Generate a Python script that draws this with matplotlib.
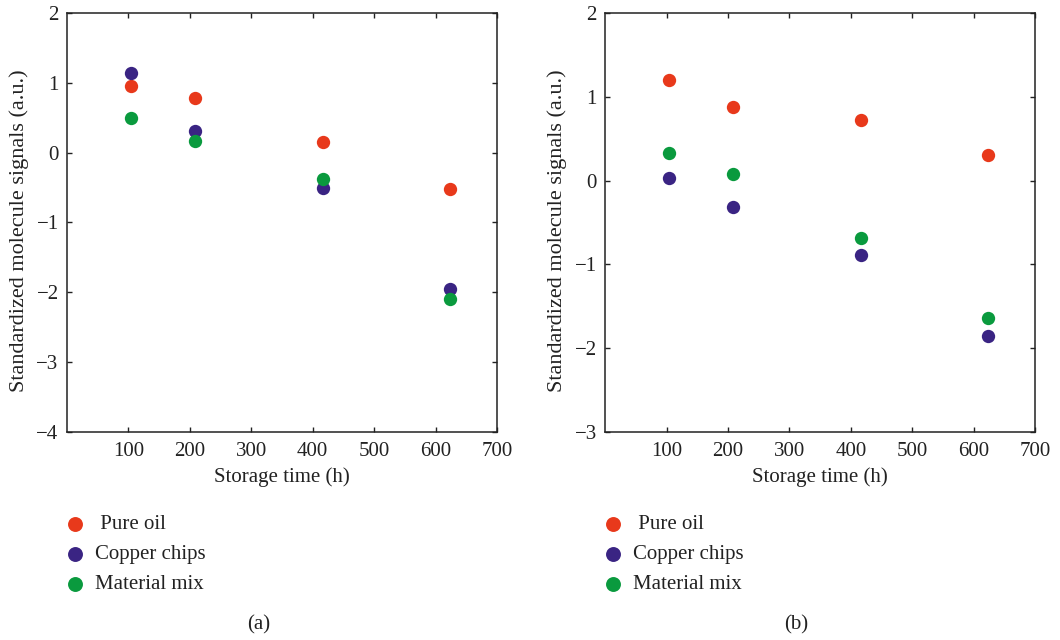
import matplotlib
matplotlib.use("Agg")
import matplotlib.pyplot as plt

plt.rcParams['font.family'] = ['Liberation Serif', 'DejaVu Serif']
plt.rcParams['axes.unicode_minus'] = True

# storage time (h)
times = [104, 208, 416, 624]

# panel (a)
pure_oil_a = [0.96, 0.78, 0.15, -0.52]
copper_a = [1.14, 0.31, -0.50, -1.95]
mix_a = [0.49, 0.17, -0.37, -2.10]

# panel (b)
pure_oil_b = [1.20, 0.88, 0.72, 0.31]
copper_b = [0.03, -0.32, -0.89, -1.86]
mix_b = [0.33, 0.08, -0.69, -1.64]

series_names = [' Pure oil', 'Copper chips', 'Material mix']
colors = ['#e8391b', '#3a2483', '#0a9a3e']

xticks = [100, 200, 300, 400, 500, 600, 700]
yticks_a = [-4, -3, -2, -1, 0, 1, 2]
yticks_b = [-3, -2, -1, 0, 1, 2]

fs = 15

fig = plt.figure(figsize=(10.6, 6.4), dpi=100)
ax1 = fig.add_axes([0.0632, 0.325, 0.4057, 0.6547])
ax2 = fig.add_axes([0.5710, 0.325, 0.4054, 0.6547])

panels = [
    (ax1, [pure_oil_a, copper_a, mix_a], (-4, 2), yticks_a, '(a)'),
    (ax2, [pure_oil_b, copper_b, mix_b], (-3, 2), yticks_b, '(b)'),
]

for ax, data, ylim, yticks, tag in panels:
    for vals, name, c in zip(data, series_names, colors):
        ax.scatter(times, vals, s=92, color=c, label=name, zorder=3,
                   linewidths=0)
    ax.set_xlim(0, 700)
    ax.set_ylim(*ylim)
    ax.set_xticks(xticks)
    ax.set_yticks(yticks)
    ax.tick_params(direction='in', top=True, right=True, length=3.8,
                   width=1, labelsize=fs, colors='#222222')
    ax.tick_params(axis='x', pad=7.5)
    ax.tick_params(axis='y', pad=6)
    for sp in ax.spines.values():
        sp.set_linewidth(1.1)
        sp.set_color('#222222')
    ax.set_xlabel('Storage time (h)', fontsize=fs, labelpad=4.5,
                  color='#222222')
    ax.set_ylabel('Standardized molecule signals (a.u.)', fontsize=fs + 1,
                  color='#222222')
    ax.yaxis.set_label_coords(-0.088, 0.48)
    ax.legend(loc='upper left', bbox_to_anchor=(-0.006, -0.197),
              frameon=False, fontsize=fs, handlelength=1.0,
              handletextpad=0.46, borderpad=0, labelspacing=0.5,
              borderaxespad=0, labelcolor='#222222', markerscale=1.12)
    ax.text(0.445, -0.46, tag, transform=ax.transAxes, fontsize=fs,
            ha='center', va='center', color='#222222')

fig.savefig('out.png', dpi=100)
